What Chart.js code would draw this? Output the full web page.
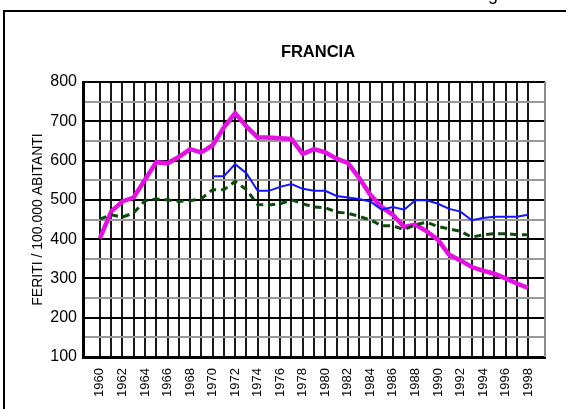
<!DOCTYPE html>
<html>
<head>
<meta charset="utf-8">
<script src="https://cdn.jsdelivr.net/npm/chart.js@4/dist/chart.umd.min.js"></script>
<style>
  body { margin: 0; background: #fff; }
  #wrap { position: relative; width: 566px; height: 409px; overflow: hidden; }
  #cut { position: absolute; left: 488px; top: -17px; font: 18px 'Liberation Sans', Arial, sans-serif; color: #000; line-height: 22px; }
</style>
</head>
<body>
<div id="wrap">
  <span id="cut">g</span>
  <canvas id="chart" width="566" height="409"></canvas>
</div>
<script>
const years = [];
for (let y = 1960; y <= 1998; y++) years.push(y);

// tre serie (feriti per 100.000 abitanti)
const magenta = [402, 470, 496, 506, 551, 596, 593, 609, 629, 621, 639, 684, 721, 687, 659, 659, 657, 655, 617, 629, 621, 605, 594, 556, 513, 482, 462, 431, 437, 420, 398, 360, 346, 329, 320, 312, 300, 287, 276];
const blue = [null, null, null, null, null, null, null, null, null, null, 560, 560, 591, 568, 523, 523, 533, 540, 528, 523, 523, 510, 506, 502, 496, 475, 482, 475, 499, 499, 490, 477, 470, 448, 454, 457, 457, 457, 462];
const green = [451, 462, 456, 467, 498, 502, 500, 496, 498, 503, 526, 526, 547, 526, 488, 487, 490, 500, 490, 482, 480, 469, 466, 458, 449, 434, 434, 424, 437, 443, 432, 426, 420, 405, 411, 414, 414, 411, 411];

const yTicks = [100, 200, 300, 400, 500, 600, 700, 800];
const titleText = 'FRANCIA';
const yTitle = 'FERITI / 100.000 ABITANTI';

const FONT = "'Liberation Sans', Arial, sans-serif";

function pts(arr) {
  return years.map((y, i) => ({ x: y, y: arr[i] }));
}

const framePlugin = {
  id: 'frame',
  beforeDraw(chart) {
    const c = chart.ctx;
    c.save();
    c.fillStyle = '#fff';
    c.fillRect(0, 0, chart.width, chart.height);
    c.strokeStyle = '#000';
    c.lineWidth = 2;
    c.beginPath();
    c.moveTo(4, 409);
    c.lineTo(4, 11);
    c.lineTo(566, 11);
    c.stroke();
    // titolo
    c.fillStyle = '#000';
    c.font = 'bold 16.5px ' + FONT;
    c.textAlign = 'center';
    c.textBaseline = 'middle';
    c.fillText(titleText, 318, 52);
    c.restore();
  },
  beforeDatasetsDraw(chart) {
    const a = chart.chartArea;
    const c = chart.ctx;
    c.save();
    c.strokeStyle = '#8c8c8c';
    c.lineWidth = 2;
    c.beginPath();
    c.moveTo(a.right, a.top);
    c.lineTo(a.right, a.bottom);
    c.stroke();
    c.restore();
  }
};

new Chart(document.getElementById('chart'), {
  type: 'line',
  data: {
    datasets: [
      { data: pts(green), borderColor: '#0b4a0b', borderWidth: 3, borderDash: [7, 5], pointRadius: 0, tension: 0 },
      { data: pts(blue), borderColor: '#1414ff', borderWidth: 2, pointRadius: 0, tension: 0, spanGaps: false },
      { data: pts(magenta), borderColor: '#e312e3', borderWidth: 4.5, pointRadius: 0, tension: 0 }
    ]
  },
  options: {
    responsive: false,
    animation: false,
    layout: { padding: { top: 82, left: 0, right: 21, bottom: 0 } },
    plugins: {
      legend: { display: false },
      tooltip: { enabled: false },
      title: { display: false }
    },
    scales: {
      x: {
        type: 'linear',
        min: 1958.5,
        max: 1999.5,
        afterBuildTicks: scale => { scale.ticks = years.map(v => ({ value: v })); },
        afterFit: scale => { scale.height = 52; },
        grid: { color: '#1a1a1a', lineWidth: 2, drawTicks: false },
        border: { color: '#000', width: 3 },
        ticks: {
          autoSkip: false,
          minRotation: 90,
          maxRotation: 90,
          padding: 11,
          color: '#000',
          font: { family: FONT, size: 13 },
          callback: v => (v % 2 === 0 ? String(v) : '')
        }
      },
      y: {
        min: 100,
        max: 800,
        afterBuildTicks: scale => {
          const t = [];
          for (let v = 100; v <= 800; v += 50) t.push({ value: v });
          scale.ticks = t;
        },
        afterFit: scale => { scale.width = 83; },
        grid: {
          drawTicks: false,
          lineWidth: 2,
          color: ctx => (ctx.tick && ctx.tick.value % 100 === 0 ? '#000' : '#999')
        },
        border: { color: '#000', width: 3 },
        ticks: {
          autoSkip: false,
          padding: 6,
          color: '#000',
          font: { family: FONT, size: 16 },
          callback: v => (yTicks.includes(v) ? String(v) : '')
        },
        title: {
          display: true,
          text: yTitle,
          color: '#000',
          font: { family: FONT, size: 14 },
          padding: { top: 30, bottom: 0 }
        }
      }
    }
  },
  plugins: [framePlugin]
});
</script>
</body>
</html>
